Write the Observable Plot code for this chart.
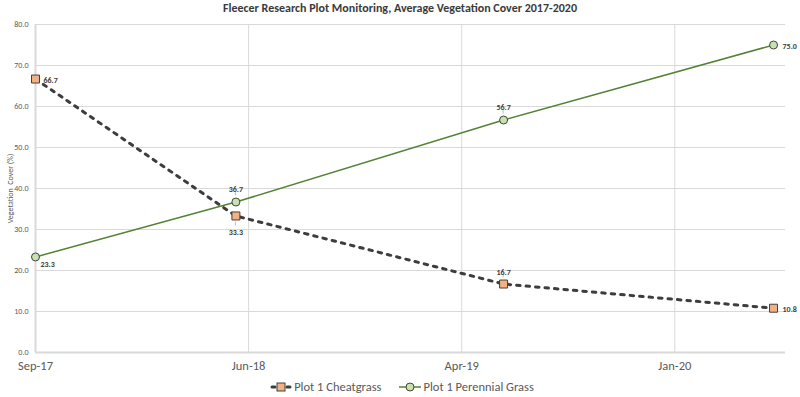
<!DOCTYPE html>
<html>
<head>
<meta charset="utf-8">
<script src="https://cdn.jsdelivr.net/npm/d3@7"></script>
<script src="https://cdn.jsdelivr.net/npm/@observablehq/plot@0.6"></script>
<style>
  html, body { margin: 0; padding: 0; background: #fff; }
  body { width: 800px; height: 397px; overflow: hidden; font-family: Carlito, Calibri, "Liberation Sans", "Noto Sans", sans-serif; }
  #title { height: 16px; line-height: 16px; text-align: center; font-weight: bold; font-size: 12px; color: #3a3a3a;
           font-family: Carlito, Calibri, "Liberation Sans Narrow", "DejaVu Sans Condensed", "Liberation Sans", sans-serif; }
  #legend { height: 21px; display: flex; justify-content: center; align-items: center; gap: 18px; font-size: 12.5px; color: #595959; padding-left: 4px; }
  #legend .item { display: flex; align-items: center; gap: 2px; }
  svg { display: block; }
</style>
</head>
<body>
<div id="title">Fleecer Research Plot Monitoring, Average Vegetation Cover 2017-2020</div>
<div id="chart"></div>
<div id="legend"></div>
<script>
// ---- data ----
const sampleDates = ["2017-09-12", "2018-06-07", "2019-05-31", "2020-05-26"];
const cheatgrass = [66.7, 33.3, 16.7, 10.8];
const perennialGrass = [23.3, 36.7, 56.7, 75.0];
const seriesNames = ["Plot 1 Cheatgrass", "Plot 1 Perennial Grass"];
const xTickDates = ["2017-09-12", "2018-06-24", "2019-04-05", "2020-01-15"];
const xDomain = ["2017-09-12", "2020-06-11"];
const yTicks = [0, 10, 20, 30, 40, 50, 60, 70, 80];
const yTitle = "Vegetation  Cover (%)";

const parse = d3.utcParse("%Y-%m-%d");
const cg = sampleDates.map((d, i) => ({date: parse(d), value: cheatgrass[i], i}));
const pg = sampleDates.map((d, i) => ({date: parse(d), value: perennialGrass[i], i}));
const xt = xTickDates.map(parse);

const cgColor = "#3d3d3d", cgFill = "#f4b183";
const pgColor = "#548235", pgFill = "#c9e0b5";
const lblStyle = {fontSize: 8, fontWeight: "bold", fill: "#404040"};

const fmt = d3.format(".1f");

// label placement (code-side, not data)
const cgPlace = [{dx: 8, dy: 1, a: "start"}, {dx: 0, dy: 16, a: "middle"}, {dx: 0, dy: -12, a: "middle"}, {dx: 9, dy: 1, a: "start"}];
const pgPlace = [{dx: 5, dy: 7, a: "start"}, {dx: 0, dy: -13, a: "middle"}, {dx: 0, dy: -13, a: "middle"}, {dx: 9, dy: 1, a: "start"}];
// small leader lines between label and marker (pixel offsets from marker)
const cgLead = [null, [6, 10], [-10, -6], null];
const pgLead = [null, [-10, -6], [-10, -6], null];

function labels(data, place) {
  return place.map((p, k) => Plot.text(data.filter(d => d.i === k), {
    x: "date", y: "value", text: d => fmt(d.value), dx: p.dx, dy: p.dy, textAnchor: p.a, ...lblStyle
  }));
}
function leaders(data, lead) {
  return lead.map((l, k) => l ? Plot.dot(data.filter(d => d.i === k), {
    x: "date", y: "value", r: 1,
    render: (index, scales, values) => {
      const g = d3.create("svg:g");
      for (const j of index) {
        const x = values.x[j], y = values.y[j];
        g.append("line").attr("x1", x).attr("x2", x).attr("y1", y + l[0]).attr("y2", y + l[1])
          .attr("stroke", "#bfbfbf").attr("stroke-width", 1);
      }
      return g.node();
    }
  }) : null).filter(Boolean);
}

const chart = Plot.plot({
  width: 800,
  height: 360,
  marginTop: 8,
  marginBottom: 24,
  marginLeft: 35,
  marginRight: 15,
  style: {fontFamily: 'Carlito, Calibri, "Liberation Sans", "Noto Sans", sans-serif', background: "#fff"},
  x: {type: "utc", domain: xDomain.map(parse)},
  y: {domain: [0, 80]},
  marks: [
    Plot.gridY(yTicks, {stroke: "#d9d9d9", strokeOpacity: 1, strokeWidth: 1}),
    Plot.gridX(xt, {stroke: "#d9d9d9", strokeOpacity: 1, strokeWidth: 1}),
    Plot.ruleY([0], {stroke: "#d9d9d9", strokeWidth: 2}),
    Plot.ruleX([xt[0]], {stroke: "#d9d9d9", strokeWidth: 2}),
    Plot.axisY(yTicks, {tickSize: 0, tickPadding: 7, tickFormat: fmt, fontSize: 8, color: "#595959",
      label: yTitle, labelAnchor: "center", labelArrow: "none", labelOffset: 28}),
    Plot.axisX(xt, {tickSize: 0, tickPadding: 9, tickFormat: d3.utcFormat("%b-%y"), fontSize: 12.5, color: "#595959", label: null}),
    ...leaders(cg, cgLead),
    ...leaders(pg, pgLead),
    Plot.line(pg, {x: "date", y: "value", stroke: pgColor, strokeWidth: 1.5}),
    Plot.line(cg, {x: "date", y: "value", stroke: cgColor, strokeWidth: 3, strokeDasharray: "3.5,6", strokeLinecap: "round"}),
    Plot.dot(pg, {x: "date", y: "value", r: 4, fill: pgFill, stroke: "#3f4a35", strokeWidth: 1}),
    Plot.dot(cg, {x: "date", y: "value", symbol: "square", r: 4.5, fill: cgFill, stroke: "#404040", strokeWidth: 1}),
    ...labels(cg, cgPlace),
    ...labels(pg, pgPlace)
  ]
});
document.getElementById("chart").appendChild(chart);

// legend
const legend = document.getElementById("legend");
const sw = [
  `<svg width="22" height="10"><line x1="2" y1="5" x2="5" y2="5" stroke="${cgColor}" stroke-width="3" stroke-linecap="round"/><line x1="17" y1="5" x2="20" y2="5" stroke="${cgColor}" stroke-width="3" stroke-linecap="round"/><rect x="7" y="1" width="8" height="8" fill="${cgFill}" stroke="#404040" stroke-width="1"/></svg>`,
  `<svg width="22" height="10"><line x1="0" y1="5" x2="22" y2="5" stroke="${pgColor}" stroke-width="1.5"/><circle cx="11" cy="5" r="4" fill="${pgFill}" stroke="#3f4a35" stroke-width="1"/></svg>`
];
seriesNames.forEach((n, i) => {
  const it = document.createElement("div");
  it.className = "item";
  it.innerHTML = sw[i] + `<span>${n}</span>`;
  legend.appendChild(it);
});
</script>
</body>
</html>
